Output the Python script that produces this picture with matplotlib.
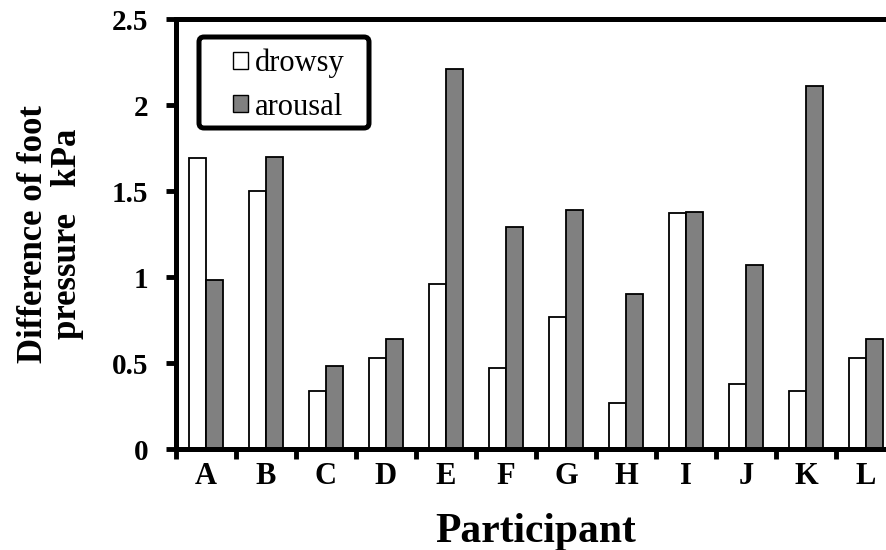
import matplotlib
matplotlib.use("Agg")
import matplotlib.pyplot as plt
from matplotlib.patches import FancyBboxPatch
import numpy as np

participants = ["A", "B", "C", "D", "E", "F", "G", "H", "I", "J", "K", "L"]
drowsy = [1.69, 1.50, 0.34, 0.53, 0.96, 0.47, 0.77, 0.27, 1.37, 0.38, 0.34, 0.53]
arousal = [0.98, 1.70, 0.48, 0.64, 2.21, 1.29, 1.39, 0.90, 1.38, 1.07, 2.11, 0.64]
yticks = [0, 0.5, 1, 1.5, 2, 2.5]
ytick_labels = ["0", "0.5", "1", "1.5", "2", "2.5"]

plt.rcParams['font.family'] = ['Liberation Serif', 'DejaVu Serif']

fig = plt.figure(figsize=(8.87, 5.5), dpi=100)
AX_W, AX_H = 720, 430
ax = fig.add_axes([176/887, 101/550, AX_W/887, AX_H/550])

x = np.arange(len(participants))
w = 0.29
ax.bar(x - w/2, drowsy, w, color='white', edgecolor='black', linewidth=1.3, label='drowsy')
ax.bar(x + w/2, arousal, w, color='#808080', edgecolor='black', linewidth=1.3, label='arousal')

ax.set_xlim(-0.5, len(participants) - 0.5)
ax.set_ylim(0, 2.5)
ax.set_yticks(yticks)
ax.set_yticklabels(ytick_labels, fontsize=21, fontweight='bold')
ax.set_xticks(x)
ax.set_xticklabels(participants, fontsize=22, fontweight='bold')
ax.tick_params(axis='x', which='major', length=0, pad=9)
ax.set_xticks(np.arange(-0.5, len(participants), 1), minor=True)
ax.tick_params(axis='x', which='minor', length=7, width=3.5, direction='out')
ax.tick_params(axis='y', which='major', length=7, width=3.5, direction='out', pad=13)

for s in ['left', 'bottom', 'top']:
    ax.spines[s].set_linewidth(3.6)
ax.spines['right'].set_visible(False)

ax.set_xlabel('Participant', fontsize=30, fontweight='bold')
ax.xaxis.set_label_coords(0.5, -(513 - 449) / AX_H)
ax.set_ylabel('Difference of foot\npressure   kPa', fontsize=25, fontweight='bold', linespacing=1.05)
ax.yaxis.set_label_coords((84 - 176) / AX_W, 0.5)

leg = ax.legend(loc='upper left', bbox_to_anchor=((233 - 176) / AX_W, (449 - 49) / AX_H),
                fontsize=22, frameon=False, handlelength=0.5, handleheight=0.5,
                handletextpad=0.2, borderpad=0, labelspacing=0.46, borderaxespad=0)
for h in leg.legend_handles:
    h.set_linewidth(1.0)

frame = FancyBboxPatch(((199 - 176) / AX_W, (449 - 128) / AX_H),
                       (369 - 199) / AX_W, (128 - 37) / AX_H,
                       boxstyle='round,pad=0,rounding_size=%f' % (5 / AX_W),
                       mutation_aspect=AX_W / AX_H,
                       transform=ax.transAxes, facecolor='none', edgecolor='black',
                       linewidth=3.6, zorder=5, clip_on=False)
ax.add_patch(frame)

fig.savefig('out.png', dpi=100)
